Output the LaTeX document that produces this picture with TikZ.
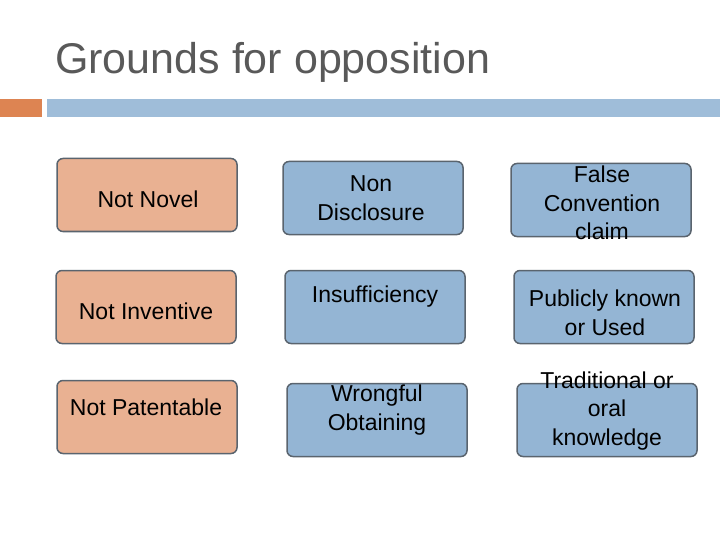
\documentclass[tikz,border=0pt]{standalone}
\usepackage{fontspec}
\setmainfont{Liberation Sans}
\definecolor{titlegray}{RGB}{89,89,89}
\definecolor{barorange}{RGB}{221,132,82}
\definecolor{barblue}{RGB}{159,189,217}
\definecolor{cellorange}{RGB}{233,177,146}
\definecolor{cellblue}{RGB}{148,181,212}
\definecolor{cellline}{RGB}{90,100,110}
\tikzset{
	cell/.style={draw=cellline, line width=1.5pt, rounded corners=6pt, minimum width=180pt, minimum height=73pt},
	ground/.style={cell, fill=cellorange},
	basis/.style={cell, fill=cellblue},
	celltext/.style={align=center, font=\fontsize{23}{28.5}\selectfont, text=black}
}
\begin{document}
\begin{tikzpicture}[x=1pt,y=-1pt]
		\useasboundingbox (0,0) rectangle (720,540);
		
		%Title
		\node[anchor=base west, inner sep=0pt, text=titlegray, font=\fontsize{43}{50}\selectfont] (T) at (55,74) {Grounds for opposition};
		\fill[barorange] (0,99) rectangle (42,117);
		\fill[barblue] (47,99) rectangle (720,117);
		
		%First column
		\node[ground] (N1) at (147,195) {};
		\node[celltext] (N1t) at (148,199) {Not Novel};
		\node[ground] (N2) at (146,307) {};
		\node[celltext] (N2t) at (146,311) {Not Inventive};
		\node[ground] (N3) at (147,417) {};
		\node[celltext] (N3t) at (146,407) {Not Patentable};
		
		%Second column
		\node[basis] (D1) at (373,198) {};
		\node[celltext] (D1t) at (371,198) {Non\\Disclosure};
		\node[basis] (D2) at (375,307) {};
		\node[celltext] (D2t) at (375,297) {Insufficiency};
		\node[basis] (D3) at (377,420) {};
		\node[celltext] (D3t) at (377,410) {Wrongful\\Obtaining};
		
		%Third column
		\node[basis] (F1) at (601,200) {};
		\node[celltext] (F1t) at (602,203) {False\\Convention\\claim};
		\node[basis] (F2) at (604,307) {};
		\node[celltext] (F2t) at (605,313) {Publicly known\\or Used};
		\node[basis] (F3) at (607,420) {};
		\node[celltext] (F3t) at (607,411) {Traditional or\\oral\\knowledge};
\end{tikzpicture}
\end{document}
